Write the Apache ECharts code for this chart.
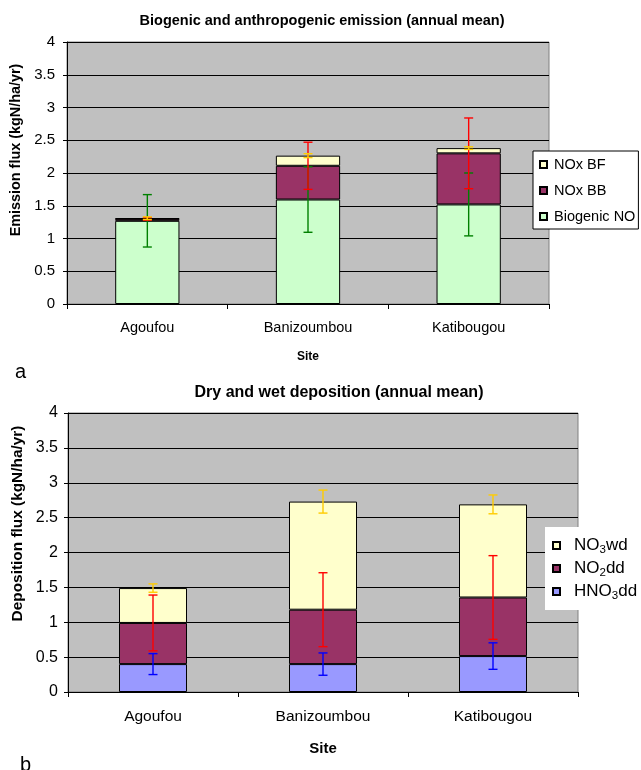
<!DOCTYPE html>
<html>
<head>
<meta charset="utf-8">
<script src="https://cdn.jsdelivr.net/npm/echarts@6/dist/echarts.min.js"></script>
<style>
  html, body { margin: 0; padding: 0; background: #fff; }
  #main { width: 641px; height: 770px; }
</style>
</head>
<body>
<div id="main"></div>
<script>
// sites
const sites = ['Agoufou', 'Banizoumbou', 'Katibougou']
const yTicks = [0, 0.5, 1, 1.5, 2, 2.5, 3, 3.5, 4]

// panel a: emission (stacked, bottom to top)
const biogenicNO = [1.27, 1.595, 1.52]
const noxBB = [0.03, 0.515, 0.78]
const noxBF = [0.01, 0.155, 0.08]
const biogenicErr = [0.4, 0.5, 0.48]
const noxBBErr = [0.02, 0.36, 0.54]
const noxBFErr = [0.02, 0.03, 0.02]

// panel b: deposition (stacked, bottom to top)
const hno3dd = [0.4, 0.4, 0.515]
const no2dd = [0.59, 0.78, 0.84]
const no3wd = [0.5, 1.55, 1.335]
const hno3Err = [0.15, 0.16, 0.19]
const no2Err = [0.4, 0.53, 0.6]
const no3Err = [0.06, 0.165, 0.135]

const FONT = '"Liberation Sans", Arial, sans-serif'

function cumulate(...layers) {
  const out = []
  let acc = sites.map(() => 0)
  layers.forEach(l => {
    acc = acc.map((v, i) => v + l[i])
    out.push(acc.slice())
  })
  return out
}

function barSeries(name, data, color, gi, stack) {
  return {
    name, type: 'bar', stack, data,
    xAxisIndex: gi, yAxisIndex: gi,
    barWidth: '40%',
    itemStyle: { color, borderColor: '#000', borderWidth: 1 },
    emphasis: { disabled: true }
  }
}

// vertical error bar with caps, centred on the stacked top
function errSeries(centers, errs, color, gi) {
  return {
    type: 'custom',
    xAxisIndex: gi, yAxisIndex: gi,
    z: 10,
    silent: true,
    data: centers.map((c, i) => [i, c, errs[i]]),
    renderItem(params, api) {
      const x = api.value(0), c = api.value(1), e = api.value(2)
      const top = api.coord([x, c + e])
      const bot = api.coord([x, c - e])
      const w = 4.5
      const style = { stroke: color, lineWidth: 1.4 }
      return {
        type: 'group',
        children: [
          { type: 'line', shape: { x1: top[0], y1: top[1], x2: bot[0], y2: bot[1] }, style },
          { type: 'line', shape: { x1: top[0] - w, y1: top[1], x2: top[0] + w, y2: top[1] }, style },
          { type: 'line', shape: { x1: bot[0] - w, y1: bot[1], x2: bot[0] + w, y2: bot[1] }, style }
        ]
      }
    }
  }
}

const cumA = cumulate(biogenicNO, noxBB, noxBF)
const cumB = cumulate(hno3dd, no2dd, no3wd)

function xAxis(gi, size, margin, gap, nameSize) {
  return {
    type: 'category', gridIndex: gi, data: sites,
    axisLine: { lineStyle: { color: '#000' } },
    axisTick: { show: true, length: 5, lineStyle: { color: '#000' } },
    axisLabel: { color: '#000', fontSize: size, fontFamily: FONT, margin },
    name: 'Site', nameLocation: 'middle', nameGap: gap,
    nameTextStyle: { color: '#000', fontWeight: 'bold', fontSize: nameSize, fontFamily: FONT }
  }
}

function yAxis(gi, name, size, margin, gap, nameSize, shift) {
  return {
    type: 'value', gridIndex: gi, min: 0, max: 4, interval: 0.5,
    axisLine: { show: true, lineStyle: { color: '#000' } },
    axisTick: { show: true, length: 4, lineStyle: { color: '#000' } },
    axisLabel: { color: '#000', fontSize: size, fontFamily: FONT, margin,
      formatter: v => yTicks.includes(v) ? String(v) : '' },
    splitLine: { show: true, lineStyle: { color: '#000', width: 1 } },
    name, nameLocation: 'middle', nameGap: gap, nameRotate: 90,
    nameTextStyle: { color: '#000', fontWeight: 'bold', fontSize: nameSize, fontFamily: FONT,
      padding: [0, 0, 0, shift] }
  }
}

const chart = echarts.init(document.getElementById('main'), null, { renderer: 'canvas' })
chart.setOption({
  backgroundColor: '#fff',
  animation: false,
  title: [
    { text: 'Biogenic and anthropogenic emission (annual mean)', left: 317, top: 8, textAlign: 'center',
      textStyle: { fontSize: 14.5, fontWeight: 'bold', color: '#000', fontFamily: FONT } },
    { text: 'Dry and wet deposition (annual mean)', left: 334, top: 380, textAlign: 'center',
      textStyle: { fontSize: 16, fontWeight: 'bold', color: '#000', fontFamily: FONT } },
    { text: 'a', left: 10, top: 357, textStyle: { fontSize: 20, fontWeight: 'normal', color: '#000', fontFamily: FONT } },
    { text: 'b', left: 15, top: 750, textStyle: { fontSize: 20, fontWeight: 'normal', color: '#000', fontFamily: FONT } }
  ],
  grid: [
    { left: 67, top: 42, width: 482, height: 262, show: true, backgroundColor: '#C0C0C0', borderColor: '#808080', borderWidth: 1 },
    { left: 68, top: 413, width: 510, height: 279, show: true, backgroundColor: '#C0C0C0', borderColor: '#808080', borderWidth: 1 }
  ],
  legend: [
    {
      data: ['NOx BF', 'NOx BB', 'Biogenic NO'],
      orient: 'vertical', left: 533, top: 151,
      backgroundColor: '#fff', borderColor: '#000', borderWidth: 1,
      padding: [6, 3, 5, 6], itemGap: 11, itemWidth: 7, itemHeight: 7,
      icon: 'rect',
      textStyle: { fontSize: 14.5, color: '#000', fontFamily: FONT, padding: [0, 0, 0, 2] }
    },
    {
      data: ['NO3wd', 'NO2dd', 'HNO3dd'],
      orient: 'vertical', left: 545, top: 527,
      backgroundColor: '#fff', borderWidth: 0,
      padding: [10, 4, 8, 7], itemGap: 4, itemWidth: 7, itemHeight: 7,
      icon: 'rect',
      formatter: n => n.replace(/(\d)/, '{s|$1}'),
      textStyle: {
        fontSize: 17, color: '#000', fontFamily: FONT, padding: [0, 0, 0, 9],
        rich: {
          s: { fontSize: 11.5, fontFamily: FONT, color: '#000', padding: [9, 0, 0, 0] }
        }
      }
    }
  ],
  xAxis: [xAxis(0, 14.5, 16, 47, 12), xAxis(1, 15.5, 17, 49, 15)],
  yAxis: [
    yAxis(0, 'Emission flux (kgN/ha/yr)', 15, 12, 38, 14.4, 46),
    yAxis(1, 'Deposition flux (kgN/ha/yr)', 16, 10, 41, 15.4, 58)
  ],
  series: [
    barSeries('Biogenic NO', biogenicNO, '#CCFFCC', 0, 'a'),
    barSeries('NOx BB', noxBB, '#993366', 0, 'a'),
    barSeries('NOx BF', noxBF, '#FFFFCC', 0, 'a'),
    errSeries(cumA[0], biogenicErr, '#008000', 0),
    errSeries(cumA[1], noxBBErr, '#FF0000', 0),
    errSeries(cumA[2], noxBFErr, '#FFCC00', 0),
    barSeries('HNO3dd', hno3dd, '#9999FF', 1, 'b'),
    barSeries('NO2dd', no2dd, '#993366', 1, 'b'),
    barSeries('NO3wd', no3wd, '#FFFFCC', 1, 'b'),
    errSeries(cumB[0], hno3Err, '#0000FF', 1),
    errSeries(cumB[1], no2Err, '#FF0000', 1),
    errSeries(cumB[2], no3Err, '#FFCC00', 1)
  ]
})
</script>
</body>
</html>
